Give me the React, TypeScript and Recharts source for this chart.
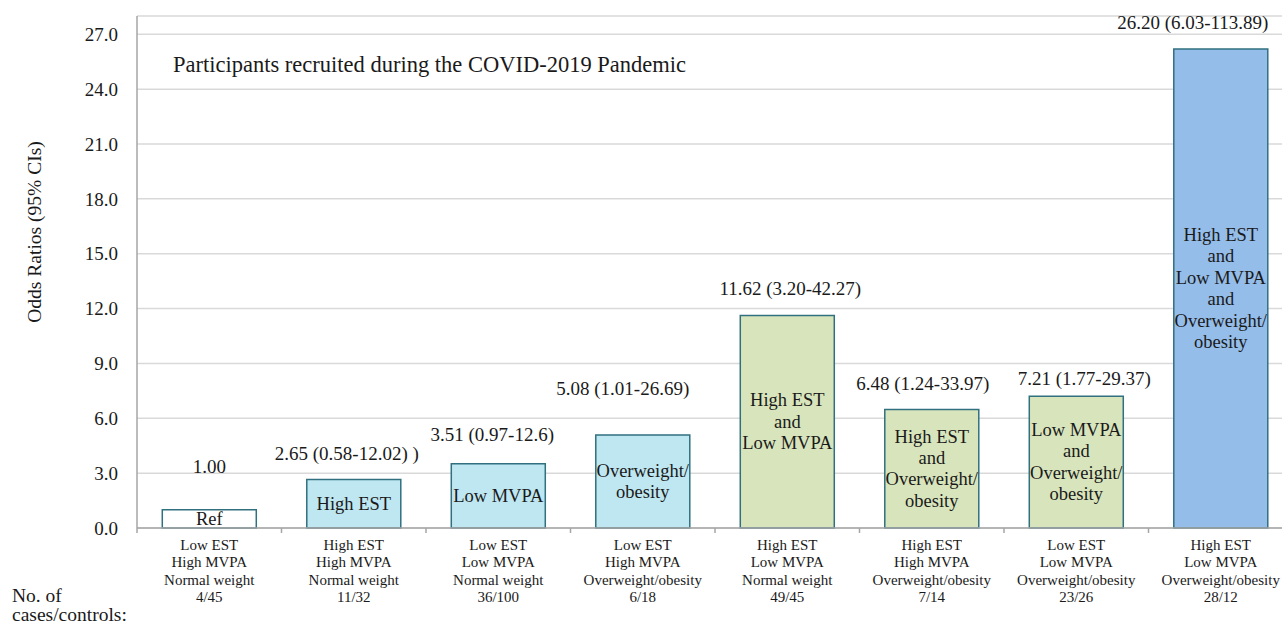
import React from 'react';
import { BarChart, Bar, XAxis, YAxis, CartesianGrid, Cell, LabelList } from 'recharts';

// ---------- data ----------
const estLabels = ['Low EST', 'High EST', 'Low EST', 'Low EST', 'High EST', 'High EST', 'Low EST', 'High EST'];
const mvpaLabels = ['High MVPA', 'High MVPA', 'Low MVPA', 'High MVPA', 'Low MVPA', 'High MVPA', 'Low MVPA', 'Low MVPA'];
const weightLabels = [
  'Normal weight', 'Normal weight', 'Normal weight', 'Overweight/obesity',
  'Normal weight', 'Overweight/obesity', 'Overweight/obesity', 'Overweight/obesity',
];
const caseControls = ['4/45', '11/32', '36/100', '6/18', '49/45', '7/14', '23/26', '28/12'];
const oddsRatios = [1.0, 2.65, 3.51, 5.08, 11.62, 6.48, 7.21, 26.2];
const ciLabels = [
  '1.00',
  '2.65 (0.58-12.02) )',
  '3.51 (0.97-12.6)',
  '5.08 (1.01-26.69)',
  '11.62 (3.20-42.27)',
  '6.48 (1.24-33.97)',
  '7.21 (1.77-29.37)',
  '26.20 (6.03-113.89)',
];
const barTexts = [
  ['Ref'],
  ['High EST'],
  ['Low MVPA'],
  ['Overweight/', 'obesity'],
  ['High EST', 'and', 'Low MVPA'],
  ['High EST', 'and', 'Overweight/', 'obesity'],
  ['Low MVPA', 'and', 'Overweight/', 'obesity'],
  ['High EST', 'and', 'Low MVPA', 'and', 'Overweight/', 'obesity'],
];
const groups = [0, 1, 1, 1, 2, 2, 2, 3];
const yTicks = [0, 3, 6, 9, 12, 15, 18, 21, 24, 27];
const titleText = 'Participants recruited during the COVID-2019 Pandemic';
const yAxisTitle = 'Odds Ratios (95% CIs)';
const casesTitle = ['No. of', 'cases/controls:'];

// ---------- style ----------
const groupFills = ['#FFFFFF', '#BFE7F1', '#D8E5BC', '#95BDEA'];
const barStroke = '#31707F';
const textColor = '#1a1a1a';
const FONT = '"Liberation Serif", "Times New Roman", serif';
// manual label placement (dx from bar centre, gap above bar top)
const labelPlacement = [
  { dx: 0, dy: 43 },
  { dx: -7, dy: 26 },
  { dx: -6, dy: 29 },
  { dx: -20, dy: 47 },
  { dx: 3, dy: 27 },
  { dx: -9, dy: 26 },
  { dx: 8, dy: 18 },
  { dx: -28, dy: 26 },
];

const CHART_W = 1300;
const CHART_H = 624;
const MARGIN = { top: 16, right: 7, left: 77, bottom: 0 };
const YAXIS_W = 60;
const XAXIS_H = 96;
const PLOT_W = CHART_W - MARGIN.left - MARGIN.right - YAXIS_W;
const BAND = PLOT_W / oddsRatios.length;

const data = oddsRatios.map((v, i) => ({
  key: `c${i}`,
  value: v,
  ci: ciLabels[i],
  inner: `inner${i}`,
}));

const XTick = (props: any) => {
  const { x, y, payload } = props;
  const i = data.findIndex((d) => d.key === payload.value);
  if (i < 0) return null;
  const lines = [estLabels[i], mvpaLabels[i], weightLabels[i], caseControls[i]];
  const left = x - BAND / 2;
  const right = x + BAND / 2;
  return (
    <g>
      <line x1={left} x2={left} y1={y} y2={y + 5} stroke="#A6A6A6" strokeWidth={1.5} />
      {i === data.length - 1 && (
        <line x1={right} x2={right} y1={y} y2={y + 5} stroke="#A6A6A6" strokeWidth={1.5} />
      )}
      {lines.map((t, k) => (
        <text
          key={k}
          x={x}
          y={y + 22 + k * 17.4}
          textAnchor="middle"
          fontFamily={FONT}
          fontSize={15}
          fill={textColor}
        >
          {t}
        </text>
      ))}
    </g>
  );
};

const TopLabel = (props: any) => {
  const { x, y, width, value } = props;
  const i = ciLabels.indexOf(value);
  if (i < 0) return null;
  const p = labelPlacement[i];
  return (
    <text
      x={x + width / 2 + p.dx}
      y={y - p.dy + 6.5}
      textAnchor="middle"
      fontFamily={FONT}
      fontSize={19}
      fill={textColor}
    >
      {value}
    </text>
  );
};

const InnerLabel = (props: any) => {
  const { x, y, width, height, value } = props;
  const i = data.findIndex((d) => d.inner === value);
  if (i < 0) return null;
  const lines = barTexts[i];
  const lh = 21.4;
  const cx = x + width / 2;
  const cy = y + height / 2;
  const start = cy - ((lines.length - 1) * lh) / 2;
  return (
    <g>
      {lines.map((t, k) => (
        <text
          key={k}
          x={cx}
          y={start + k * lh + 6}
          textAnchor="middle"
          fontFamily={FONT}
          fontSize={18.5}
          fill={textColor}
        >
          {t}
        </text>
      ))}
    </g>
  );
};

export default function App() {
  return (
    <div
      style={{
        position: 'absolute',
        left: 0,
        top: 0,
        width: 1282,
        height: 624,
        overflow: 'hidden',
        background: '#fff',
      }}
    >
      <BarChart
        width={CHART_W}
        height={CHART_H}
        data={data}
        margin={MARGIN}
        barCategoryGap="17.5%"
      >
        <CartesianGrid vertical={false} stroke="#D9D9D9" strokeWidth={1.5} />
        <XAxis
          dataKey="key"
          height={XAXIS_H}
          interval={0}
          tickLine={false}
          tickSize={0}
          tickMargin={0}
          axisLine={{ stroke: '#A6A6A6', strokeWidth: 1.5 }}
          tick={<XTick />}
        />
        <YAxis
          width={YAXIS_W}
          domain={[0, 28]}
          ticks={yTicks}
          interval={0}
          tickLine={false}
          tickSize={0}
          tickMargin={19}
          axisLine={{ stroke: '#A6A6A6', strokeWidth: 1.5 }}
          tickFormatter={(v: number) => v.toFixed(1)}
          tick={{ fontFamily: FONT, fontSize: 19, fill: textColor }}
        />
        <Bar dataKey="value" isAnimationActive={false} stroke={barStroke} strokeWidth={1.5}>
          {data.map((d, i) => (
            <Cell key={d.key} fill={groupFills[groups[i]]} />
          ))}
          <LabelList dataKey="ci" content={<TopLabel />} />
          <LabelList dataKey="inner" content={<InnerLabel />} />
        </Bar>
      </BarChart>
      <svg
        width={1282}
        height={624}
        style={{ position: 'absolute', left: 0, top: 0, pointerEvents: 'none' }}
      >
        <text x={173} y={72} fontFamily={FONT} fontSize={22.5} fill={textColor}>
          {titleText}
        </text>
        <text
          transform="translate(41,232) rotate(-90)"
          textAnchor="middle"
          fontFamily={FONT}
          fontSize={19.5}
          fill={textColor}
        >
          {yAxisTitle}
        </text>
        <text x={12} y={602} fontFamily={FONT} fontSize={19.5} fill={textColor}>
          {casesTitle[0]}
        </text>
        <text x={12} y={621} fontFamily={FONT} fontSize={19.5} fill={textColor}>
          {casesTitle[1]}
        </text>
      </svg>
    </div>
  );
}
